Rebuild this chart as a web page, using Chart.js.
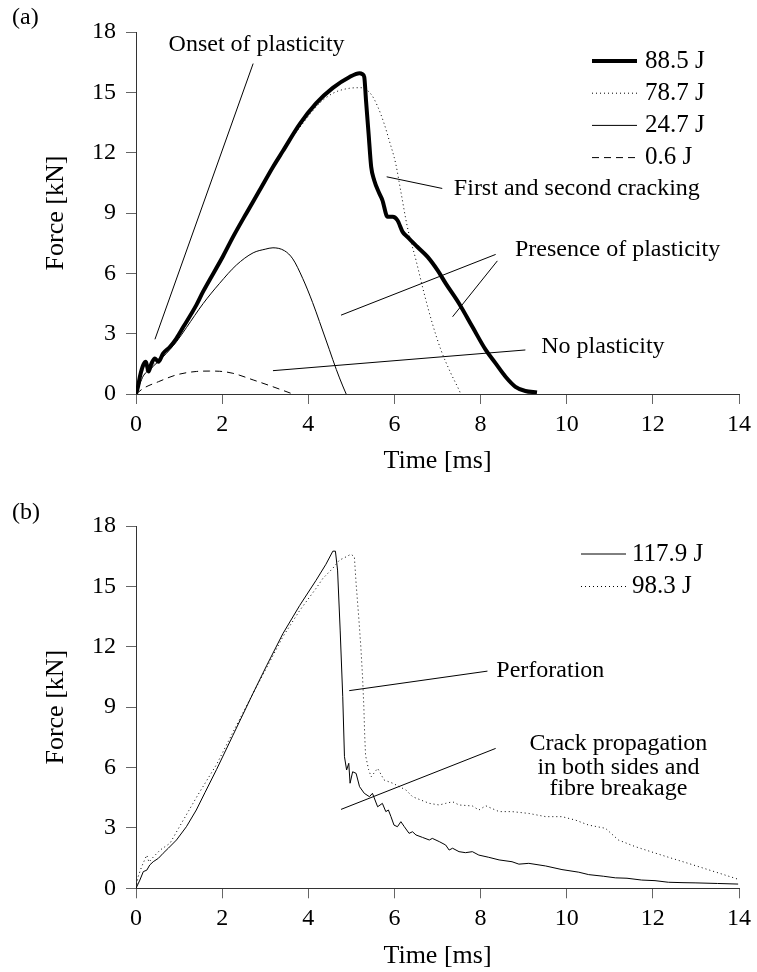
<!DOCTYPE html>
<html>
<head>
<meta charset="utf-8">
<script src="https://cdn.jsdelivr.net/npm/chart.js@4.4.1/dist/chart.umd.min.js"></script>
<style>
  body { margin: 0; background: #fff; }
  canvas { display: block; }
</style>
</head>
<body>
<canvas id="chartA" width="757" height="486"></canvas>
<canvas id="chartB" width="757" height="486"></canvas>
<script>
// ---- panel (a): time [ms] / force [kN] ----
const timeA885 = [0, 0.05, 0.09, 0.17, 0.23, 0.29, 0.36, 0.44, 0.52, 0.63, 0.79, 0.94, 1.10, 1.40, 1.56, 2.02, 2.25, 2.56, 2.87, 3.18, 3.41, 3.80, 4.18, 4.57, 4.95, 5.19, 5.26, 5.30, 5.34, 5.40, 5.46, 5.53, 5.65, 5.72, 5.84, 5.96, 6.07, 6.19, 6.30, 6.53, 6.77, 7.00, 7.19, 7.50, 7.81, 8.12, 8.35, 8.58, 8.81, 9.04, 9.31];
const forceA885 = [0, 0.40, 0.86, 1.45, 1.60, 1.12, 1.52, 1.77, 1.60, 2.02, 2.35, 2.77, 3.34, 4.42, 5.10, 6.85, 7.80, 8.98, 10.13, 11.29, 12.08, 13.42, 14.45, 15.22, 15.75, 15.95, 15.90, 15.76, 14.60, 12.95, 11.30, 10.63, 9.97, 9.64, 8.81, 8.81, 8.64, 8.06, 7.81, 7.32, 6.82, 6.16, 5.50, 4.50, 3.34, 2.19, 1.52, 0.86, 0.36, 0.15, 0.08];

const timeA787 = [0, 0.09, 0.17, 0.29, 0.44, 0.63, 0.94, 1.40, 2.02, 2.56, 3.18, 3.60, 3.80, 4.26, 4.57, 4.95, 5.22, 5.46, 5.61, 5.76, 5.88, 6.03, 6.15, 6.30, 6.50, 6.69, 6.88, 7.08, 7.31, 7.50, 7.54];
const forceA787 = [0, 0.70, 1.20, 1.10, 1.60, 1.95, 2.75, 4.40, 6.80, 8.95, 11.25, 12.65, 13.25, 14.45, 14.95, 15.20, 15.23, 14.90, 14.30, 13.45, 12.60, 11.45, 10.05, 8.31, 6.66, 5.00, 3.51, 2.19, 1.03, 0.20, 0];

const timeA247 = [0, 0.09, 0.17, 0.36, 0.63, 0.94, 1.17, 1.56, 1.94, 2.33, 2.72, 3.00, 3.18, 3.45, 3.64, 3.87, 4.10, 4.26, 4.49, 4.65, 4.80, 4.88];
const forceA247 = [0, 0.50, 0.90, 1.30, 1.85, 2.60, 3.30, 4.50, 5.50, 6.41, 7.02, 7.20, 7.27, 7.12, 6.72, 5.75, 4.55, 3.60, 2.20, 1.22, 0.40, 0];

const timeA06 = [0, 0.17, 0.52, 0.94, 1.40, 1.71, 1.94, 2.25, 2.72, 3.18, 3.64];
const forceA06 = [0, 0.28, 0.61, 0.95, 1.12, 1.14, 1.13, 1.03, 0.70, 0.36, 0];

// ---- panel (b) ----
const timeB1179 = [0, 0.09, 0.17, 0.25, 0.32, 0.40, 0.52, 0.63, 0.75, 0.94, 1.17, 1.40, 1.60, 1.87, 2.25, 2.72, 3.03, 3.41, 3.80, 4.18, 4.41, 4.57, 4.63, 4.68, 4.74, 4.80, 4.84, 4.89, 4.94, 4.97, 5.03, 5.11, 5.19, 5.30, 5.42, 5.49, 5.61, 5.72, 5.80, 5.86, 5.92, 5.99, 6.07, 6.15, 6.23, 6.34, 6.42, 6.50, 6.65, 6.81, 6.88, 7.04, 7.19, 7.27, 7.35, 7.50, 7.65, 7.81, 7.96, 8.19, 8.43, 8.73, 8.89, 9.12, 9.51, 9.89, 10.28, 10.51, 10.85, 11.13, 11.40, 11.74, 12.05, 12.36, 12.70, 12.98, 13.50, 13.98];
const forceB1179 = [0, 0.41, 0.83, 0.90, 1.16, 1.32, 1.49, 1.74, 1.99, 2.40, 3.06, 3.89, 4.75, 5.90, 7.60, 9.70, 11.05, 12.65, 14.05, 15.30, 16.10, 16.75, 16.75, 15.81, 12.83, 9.52, 6.54, 5.88, 6.21, 5.22, 5.79, 5.71, 5.05, 4.72, 4.55, 4.72, 4.05, 4.22, 3.81, 3.89, 3.56, 3.14, 3.06, 3.31, 3.06, 2.73, 2.81, 2.65, 2.53, 2.40, 2.48, 2.32, 2.15, 1.90, 1.99, 1.82, 1.77, 1.82, 1.65, 1.54, 1.41, 1.32, 1.20, 1.24, 1.11, 0.93, 0.80, 0.68, 0.60, 0.52, 0.50, 0.41, 0.38, 0.30, 0.28, 0.27, 0.24, 0.21];

const timeB983 = [0, 0.05, 0.13, 0.25, 0.30, 0.40, 0.56, 0.79, 1.02, 1.25, 1.44, 1.87, 2.25, 2.72, 3.03, 3.41, 3.80, 4.18, 4.34, 4.57, 4.72, 4.88, 4.99, 5.07, 5.11, 5.17, 5.22, 5.26, 5.29, 5.31, 5.33, 5.40, 5.46, 5.61, 5.76, 5.96, 6.27, 6.42, 6.81, 7.04, 7.19, 7.35, 7.50, 7.81, 7.96, 8.12, 8.43, 8.73, 9.12, 9.51, 9.89, 10.20, 10.51, 10.90, 11.20, 11.59, 12.20, 12.82, 13.44, 13.98];
const forceB983 = [0, 0.58, 1.07, 1.65, 1.30, 1.55, 1.90, 2.24, 3.10, 3.95, 4.65, 6.15, 7.75, 9.70, 10.95, 12.50, 13.80, 14.90, 15.40, 15.90, 16.30, 16.47, 16.60, 16.47, 15.15, 13.50, 12.00, 10.50, 9.00, 7.60, 6.60, 5.90, 5.54, 5.96, 5.38, 5.22, 4.88, 4.55, 4.22, 4.14, 4.22, 4.30, 4.14, 4.09, 3.89, 4.10, 3.81, 3.81, 3.72, 3.56, 3.56, 3.39, 3.14, 2.98, 2.40, 2.07, 1.65, 1.24, 0.82, 0.45];

const xTicks = [0, 2, 4, 6, 8, 10, 12, 14];
const yTicks = [0, 3, 6, 9, 12, 15, 18];

// annotation lines [t1, F1, t2, F2] and labels in data units
const notesA = {
  lines: [
    [0.44, 2.72, 2.72, 16.43],
    [5.82, 10.80, 7.11, 10.22],
    [8.35, 6.94, 4.76, 3.92],
    [8.39, 6.62, 7.35, 3.84],
    [9.04, 2.19, 3.18, 1.16]
  ],
  texts: [
    { t: 2.80, f: 17.35, text: 'Onset of plasticity', align: 'center' },
    { t: 7.38, f: 10.19, text: 'First and second cracking', align: 'left' },
    { t: 11.18, f: 7.19, text: 'Presence of plasticity', align: 'center' },
    { t: 10.84, f: 2.33, text: 'No plasticity', align: 'center' }
  ]
};
const notesB = {
  lines: [
    [8.16, 10.79, 4.95, 9.82],
    [8.35, 6.95, 4.76, 3.92]
  ],
  texts: [
    { t: 9.62, f: 10.83, text: 'Perforation', align: 'center' },
    { t: 11.20, f: 7.18, text: 'Crack propagation', align: 'center' },
    { t: 11.20, f: 6.00, text: 'in both sides and', align: 'center' },
    { t: 11.20, f: 4.94, text: 'fibre breakage', align: 'center' }
  ]
};

Chart.defaults.font.family = '"Liberation Serif", "DejaVu Serif", serif';
Chart.defaults.color = '#000';

const SERIF = '"Liberation Serif", serif';

function pts(t, f) {
  return t.map((v, i) => ({ x: v, y: f[i] }));
}

function series(label, t, f, width, dash, smooth) {
  return {
    label: label,
    data: pts(t, f),
    borderColor: '#000',
    borderWidth: width,
    borderDash: dash,
    pointRadius: 0,
    fill: false,
    tension: 0,
    cubicInterpolationMode: smooth ? 'monotone' : 'default',
    borderJoinStyle: 'round'
  };
}

// legend, panel letter, annotations
function extras(cfg) {
  return {
    id: 'extras' + cfg.letter,
    afterDraw(chart) {
      const { ctx, scales: { x, y } } = chart;
      ctx.save();
      ctx.strokeStyle = '#000';
      ctx.lineWidth = 1;
      cfg.notes.lines.forEach(l => {
        ctx.beginPath();
        ctx.moveTo(x.getPixelForValue(l[0]), y.getPixelForValue(l[1]));
        ctx.lineTo(x.getPixelForValue(l[2]), y.getPixelForValue(l[3]));
        ctx.stroke();
      });
      ctx.fillStyle = '#000';
      ctx.textBaseline = 'middle';
      ctx.font = '24px ' + SERIF;
      cfg.notes.texts.forEach(n => {
        ctx.textAlign = n.align;
        ctx.fillText(n.text, x.getPixelForValue(n.t), y.getPixelForValue(n.f));
      });

      // legend
      ctx.font = '25px ' + SERIF;
      ctx.textAlign = 'left';
      chart.data.datasets.forEach((ds, i) => {
        const ly = cfg.legend.y + i * cfg.legend.row;
        ctx.save();
        ctx.lineWidth = ds.borderWidth;
        ctx.setLineDash(ds.borderDash || []);
        ctx.beginPath();
        ctx.moveTo(cfg.legend.x, ly);
        ctx.lineTo(cfg.legend.x + 45, ly);
        ctx.stroke();
        ctx.restore();
        ctx.fillText(ds.label, cfg.legend.x + cfg.legend.textGap, ly);
      });

      // panel letter
      ctx.font = '24px ' + SERIF;
      ctx.fillText('(' + cfg.letter + ')', 12, cfg.letterY);
      ctx.restore();
    }
  };
}

function makeChart(id, datasets, cfg) {
  return new Chart(document.getElementById(id), {
    type: 'line',
    data: { datasets: datasets },
    options: {
      responsive: false,
      animation: false,
      events: [],
      layout: { padding: { top: cfg.top, right: 16, left: 0, bottom: 0 } },
      plugins: { legend: { display: false }, tooltip: { enabled: false } },
      scales: {
        x: {
          type: 'linear',
          min: 0,
          max: 14,
          afterBuildTicks: s => { s.ticks = xTicks.map(v => ({ value: v })); },
          ticks: { padding: 6, font: { size: 24 }, color: '#000', maxRotation: 0 },
          grid: { drawOnChartArea: false, tickLength: 10, color: '#666' },
          border: { color: '#333' },
          title: { display: true, text: 'Time [ms]', font: { size: 26 }, padding: { top: 0, bottom: cfg.titlePad } },
          afterFit: s => { s.height = cfg.xHeight; }
        },
        y: {
          type: 'linear',
          min: 0,
          max: 18,
          afterBuildTicks: s => { s.ticks = yTicks.map(v => ({ value: v })); },
          ticks: { padding: 10, font: { size: 24 }, color: '#000' },
          grid: { drawOnChartArea: false, tickLength: 10, color: '#666' },
          border: { color: '#333' },
          title: { display: true, text: 'Force [kN]', font: { size: 26 }, padding: { top: 41, bottom: 0 } },
          afterFit: s => { s.width = 136; }
        }
      }
    },
    plugins: [extras(cfg)]
  });
}

makeChart('chartA', [
  series('88.5 J', timeA885, forceA885, 4, [], true),
  series('78.7 J', timeA787, forceA787, 1, [1, 3], true),
  series('24.7 J', timeA247, forceA247, 1, [], true),
  series('0.6 J', timeA06, forceA06, 1, [7, 5], true)
], {
  letter: 'a', letterY: 18, top: 32, xHeight: 92, titlePad: 9,
  notes: notesA,
  legend: { x: 592, y: 61, row: 32.2, textGap: 53 }
});

makeChart('chartB', [
  series('117.9 J', timeB1179, forceB1179, 1, [], false),
  series('98.3 J', timeB983, forceB983, 1, [1, 3], false)
], {
  letter: 'b', letterY: 27, top: 40, xHeight: 83.7, titlePad: 0,
  notes: notesB,
  legend: { x: 581, y: 68, row: 32.5, textGap: 51 }
});
</script>
</body>
</html>
